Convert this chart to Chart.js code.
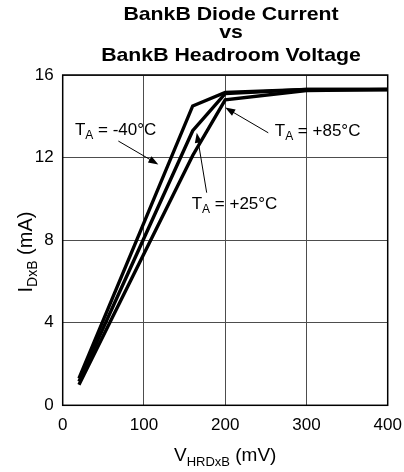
<!DOCTYPE html>
<html>
<head>
<meta charset="utf-8">
<script src="https://cdn.jsdelivr.net/npm/chart.js@4"></script>
<style>
html,body{margin:0;padding:0;background:#fff;}
#wrap{width:404px;height:472px;position:relative;}
</style>
</head>
<body>
<div id="wrap"><canvas id="c" width="404" height="472"></canvas></div>
<script>
// ---- data ----
const headroomMv = [20, 160, 200, 300, 400];
const currentMinus40 = [1.3, 14.5, 15.15, 15.3, 15.3];
const currentPlus25 = [1.15, 13.3, 15.1, 15.3, 15.3];
const currentPlus85 = [1.0, 12.1, 14.8, 15.25, 15.3];
const seriesLabels = ['-40°C', '+25°C', '+85°C'];
const xTickValues = [0, 100, 200, 300, 400];
const yTickValues = [0, 4, 8, 12, 16];
const titleLines = ['BankB Diode Current', 'vs', 'BankB Headroom Voltage'];

// annotation anchors in data units (text position, arrow tail, arrow tip)
const annotationText = [[15, 13.1], [158.8, 9.5], [261, 13.05]];
const arrowTail = [[68.5, 12.8], [177.2, 10.3], [253, 13.2]];
const arrowTip = [[117.7, 11.67], [165, 13.2], [200, 14.42]];

const FONT = '"Liberation Sans", Arial, Helvetica, sans-serif';

function toPts(ys) { return headroomMv.map((x, i) => ({ x: x, y: ys[i] })); }

function drawSub(ctx, parts, x, y, align, main, sub) {
  main = main || 17; sub = sub || 12;
  let total = 0;
  parts.forEach(p => { ctx.font = (p[1] ? sub : main) + 'px ' + FONT; total += ctx.measureText(p[0]).width; });
  let cx = align === 'center' ? x - total / 2 : x;
  ctx.textAlign = 'left';
  ctx.textBaseline = 'alphabetic';
  parts.forEach(p => {
    ctx.font = (p[1] ? sub : main) + 'px ' + FONT;
    ctx.fillText(p[0], cx, y + (p[1] ? main * 0.25 : 0));
    cx += ctx.measureText(p[0]).width;
  });
}

function arrow(ctx, x1, y1, x2, y2) {
  const ang = Math.atan2(y2 - y1, x2 - x1);
  const L = 10, W = 3.6;
  ctx.beginPath();
  ctx.moveTo(x1, y1);
  ctx.lineTo(x2 - L * 0.8 * Math.cos(ang), y2 - L * 0.8 * Math.sin(ang));
  ctx.lineWidth = 1;
  ctx.strokeStyle = '#000';
  ctx.stroke();
  ctx.beginPath();
  ctx.moveTo(x2, y2);
  ctx.lineTo(x2 - L * Math.cos(ang) + W * Math.sin(ang), y2 - L * Math.sin(ang) - W * Math.cos(ang));
  ctx.lineTo(x2 - L * Math.cos(ang) - W * Math.sin(ang), y2 - L * Math.sin(ang) + W * Math.cos(ang));
  ctx.closePath();
  ctx.fillStyle = '#000';
  ctx.fill();
}

const decor = {
  id: 'decor',
  afterDatasetsDraw(chart) {
    const ctx = chart.ctx, xs = chart.scales.x, ys = chart.scales.y, a = chart.chartArea;
    ctx.save();
    // frame
    ctx.strokeStyle = '#000';
    ctx.lineWidth = 1.5;
    ctx.strokeRect(a.left, a.top, a.right - a.left, a.bottom - a.top);
    // title
    ctx.fillStyle = '#000';
    ctx.textAlign = 'center';
    ctx.textBaseline = 'alphabetic';
    ctx.font = 'bold 19px ' + FONT;
    const tb = [20, 38, 61];
    titleLines.forEach((t, i) => {
      ctx.save();
      ctx.translate(231, tb[i]);
      ctx.scale(1.12, 1);
      ctx.fillText(t, 0, 0);
      ctx.restore();
    });
    // axis titles
    drawSub(ctx, [['V', false], ['HRDxB', true], [' (mV)', false]], (a.left + a.right) / 2, 461, 'center', 19, 13);
    ctx.save();
    ctx.translate(32, 252);
    ctx.rotate(-Math.PI / 2);
    drawSub(ctx, [['I', false], ['DxB', true], [' (mA)', false]], 0, 0, 'center', 20, 14);
    ctx.restore();
    // annotations
    seriesLabels.forEach((lab, i) => {
      const tx = xs.getPixelForValue(annotationText[i][0]);
      const ty = ys.getPixelForValue(annotationText[i][1]);
      drawSub(ctx, [['T', false], ['A', true], [' = ' + lab, false]], tx, ty, 'left', 17, 12);
      arrow(ctx,
        xs.getPixelForValue(arrowTail[i][0]), ys.getPixelForValue(arrowTail[i][1]),
        xs.getPixelForValue(arrowTip[i][0]), ys.getPixelForValue(arrowTip[i][1]));
    });
    ctx.restore();
  }
};

const lineStyle = { showLine: true, borderColor: '#000', borderWidth: 3.4, pointRadius: 0, tension: 0, fill: false, borderJoinStyle: 'miter' };

new Chart(document.getElementById('c'), {
  type: 'scatter',
  data: {
    datasets: [
      Object.assign({ label: 'TA = ' + seriesLabels[0], data: toPts(currentMinus40) }, lineStyle),
      Object.assign({ label: 'TA = ' + seriesLabels[1], data: toPts(currentPlus25) }, lineStyle),
      Object.assign({ label: 'TA = ' + seriesLabels[2], data: toPts(currentPlus85) }, lineStyle)
    ]
  },
  options: {
    responsive: false,
    animation: false,
    layout: { padding: { top: 75, right: 16.3, left: 0, bottom: 0 } },
    plugins: { legend: { display: false }, tooltip: { enabled: false }, title: { display: false } },
    scales: {
      x: {
        type: 'linear', min: 0, max: 400,
        afterFit: s => { s.height = 66.7; s.paddingLeft = 0; s.paddingRight = 0; },
        afterBuildTicks: s => { s.ticks = xTickValues.map(v => ({ value: v })); },
        grid: { color: '#4d4d4d', lineWidth: 1, drawTicks: false },
        border: { display: false },
        ticks: { color: '#000', font: { family: FONT, size: 17 }, padding: 10, maxRotation: 0 }
      },
      y: {
        type: 'linear', min: 0, max: 16,
        afterFit: s => { s.width = 62.7; s.paddingTop = 0; s.paddingBottom = 0; },
        afterBuildTicks: s => { s.ticks = yTickValues.map(v => ({ value: v })); },
        grid: { color: '#4d4d4d', lineWidth: 1, drawTicks: false },
        border: { display: false },
        ticks: { color: '#000', font: { family: FONT, size: 17 }, padding: 9 }
      }
    }
  },
  plugins: [decor]
});
</script>
</body>
</html>
